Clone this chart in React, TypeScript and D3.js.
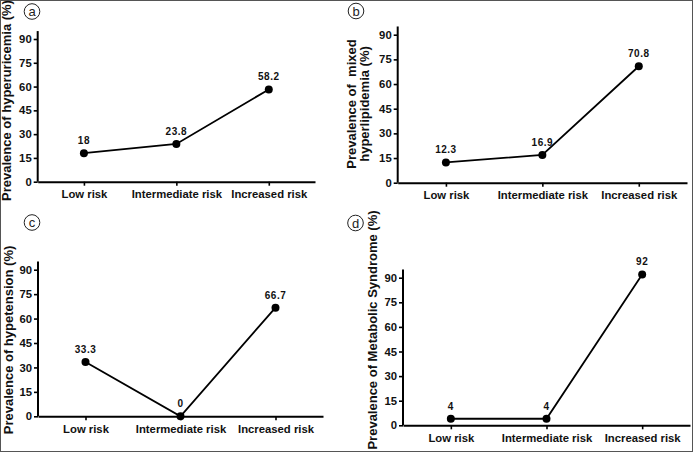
import React, { useEffect, useRef } from 'react';
import * as d3 from 'd3';

const categories = ['Low risk', 'Intermediate risk', 'Increased risk'];
const yTicks = [0, 15, 30, 45, 60, 75, 90];

const hyperuricemia = [18, 23.8, 58.2];
const mixedHyperlipidemia = [12.3, 16.9, 70.8];
const hypertension = [33.3, 0, 66.7];
const metabolicSyndrome = [4, 4, 92];

const panelLetters = ['a', 'b', 'c', 'd'];
const yTitles = [
  ['Prevalence of hyperuricemia (%)'],
  ['Prevalence of  mixed', 'hyperlipidemia (%)'],
  ['Prevalence of hypetension (%)'],
  ['Prevalence of Metabolic Syndrome (%)'],
];

// layout of each panel (pixels)
const panels = [
  { values: hyperuricemia, x0: 37.7, x1: 315, y0: 181.7, y90: 39, titleX: 11, titleY: 100.5, letter: [32, 11.5] },
  { values: mixedHyperlipidemia, x0: 397.7, x1: 687, y0: 182.7, y90: 34.7, titleX: 355.5, titleY: 104, letter: [356, 11] },
  { values: hypertension, x0: 38, x1: 323, y0: 416.3, y90: 269.7, titleX: 12.5, titleY: 340, letter: [32, 222.5] },
  { values: metabolicSyndrome, x0: 403, x1: 690, y0: 425.3, y90: 277.7, titleX: 377, titleY: 330, letter: [355.5, 223] },
];

const W = 694;
const H = 453;
const FONT = '"Liberation Sans", Arial, sans-serif';

const App = () => {
  const svgRef = useRef<SVGSVGElement>(null);

  useEffect(() => {
    const svg = d3.select(svgRef.current);
    svg.selectAll('*').remove();

    svg.append('rect').attr('width', W).attr('height', H).attr('fill', '#fff');
    svg.append('rect')
      .attr('x', 0.5).attr('y', 0.5)
      .attr('width', 692).attr('height', 451)
      .attr('fill', 'none').attr('stroke', '#555').attr('stroke-width', 1);

    panels.forEach((p, i) => {
      const g = svg.append('g');

      const x = d3.scalePoint<string>()
        .domain(categories)
        .range([p.x0, p.x1])
        .padding(0.5);

      const y = d3.scaleLinear()
        .domain([0, 90])
        .range([p.y0, p.y90]);

      // x axis
      const xAxis = g.append('g')
        .attr('transform', `translate(0,${p.y0})`)
        .call(d3.axisBottom(x).tickSize(4).tickSizeOuter(0).tickPadding(4.5));
      xAxis.select('.domain').attr('stroke-width', 2).attr('stroke', '#000');
      xAxis.selectAll('.tick line').attr('stroke-width', 1.6).attr('stroke', '#000');
      xAxis.selectAll('text')
        .attr('font-family', FONT).attr('font-size', 11.3).attr('font-weight', 'bold').attr('fill', '#111');

      // y axis
      const yAxis = g.append('g')
        .attr('transform', `translate(${p.x0},0)`)
        .call(d3.axisLeft(y).tickValues(yTicks).tickSize(4).tickSizeOuter(0).tickPadding(2));
      yAxis.select('.domain')
        .attr('d', `M0,${y(0)}V${y(95)}`)
        .attr('stroke-width', 2).attr('stroke', '#000');
      yAxis.selectAll('.tick line').attr('stroke-width', 1.6).attr('stroke', '#000');
      yAxis.selectAll('text')
        .attr('font-family', FONT).attr('font-size', 11.3).attr('font-weight', 'bold').attr('fill', '#111');

      // y title
      const lines = yTitles[i];
      const title = g.append('text')
        .attr('transform', `translate(${p.titleX},${p.titleY}) rotate(-90)`)
        .attr('text-anchor', 'middle')
        .attr('font-family', FONT).attr('font-size', 13).attr('font-weight', 'bold').attr('fill', '#111')
        .style('white-space', 'pre');
      lines.forEach((t, j) => {
        title.append('tspan')
          .attr('x', 0)
          .attr('dy', j === 0 ? 0 : 13.5)
          .text(t);
      });

      // line + points
      const line = d3.line<number>()
        .x((d, k) => x(categories[k]) as number)
        .y(d => y(d));

      g.append('path')
        .datum(p.values)
        .attr('d', line)
        .attr('fill', 'none')
        .attr('stroke', '#000')
        .attr('stroke-width', 1.8);

      g.selectAll('circle.pt')
        .data(p.values)
        .join('circle')
        .attr('class', 'pt')
        .attr('cx', (d, k) => x(categories[k]) as number)
        .attr('cy', d => y(d))
        .attr('r', 4)
        .attr('fill', '#000');

      g.selectAll('text.val')
        .data(p.values)
        .join('text')
        .attr('class', 'val')
        .attr('x', (d, k) => x(categories[k]) as number)
        .attr('y', d => y(d) - 9)
        .attr('text-anchor', 'middle')
        .attr('font-family', FONT).attr('font-size', 10).attr('font-weight', 'bold')
        .attr('letter-spacing', 0.5)
        .attr('fill', '#111')
        .text(d => String(d));

      // panel letter
      g.append('circle')
        .attr('cx', p.letter[0]).attr('cy', p.letter[1]).attr('r', 7.8)
        .attr('fill', 'none').attr('stroke', '#222').attr('stroke-width', 1);
      g.append('text')
        .attr('x', p.letter[0]).attr('y', p.letter[1] + 4.5)
        .attr('text-anchor', 'middle')
        .attr('font-family', FONT).attr('font-size', 13).attr('fill', '#222')
        .text(panelLetters[i]);
    });
  }, []);

  return (
    <svg
      ref={svgRef}
      width={W}
      height={H}
      style={{ position: 'absolute', left: 0, top: 0, display: 'block' }}
    />
  );
};

export default App;
